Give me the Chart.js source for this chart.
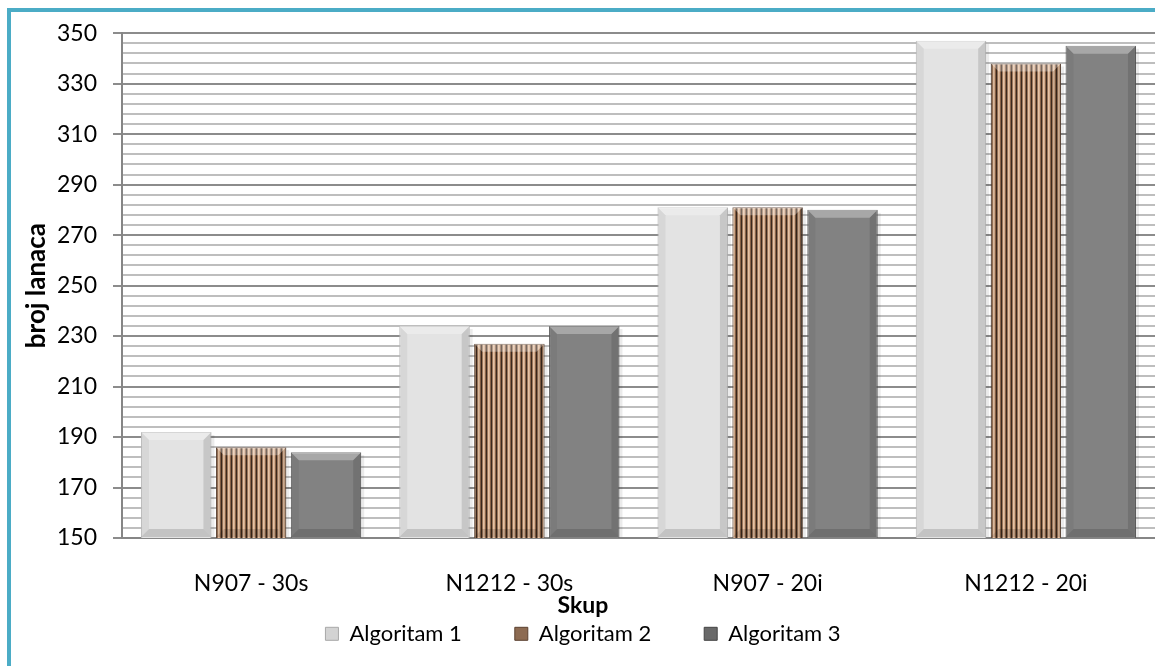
<!DOCTYPE html>
<html>
<head>
<meta charset="utf-8">
<script src="https://cdn.jsdelivr.net/npm/chart.js@4.4.1/dist/chart.umd.min.js"></script>
<style>
	html, body { margin: 0; padding: 0; background: #fff; }
	body { width: 1155px; height: 666px; position: relative; overflow: hidden; }
	#frame {
		position: absolute; left: 7px; top: 8px;
		width: 1148px; height: 658px;
		border-left: 4px solid #4bacc6; border-top: 4px solid #4bacc6;
	}
	#box { position: relative; width: 1144px; height: 654px; }
</style>
</head>
<body>
<div id="frame"><div id="box"><canvas id="chart"></canvas></div></div>
<script>
// data
const categories = ['N907 - 30s', 'N1212 - 30s', 'N907 - 20i', 'N1212 - 20i'];
const algoritam1 = [192, 234, 281, 347];
const algoritam2 = [186, 227, 281, 338];
const algoritam3 = [184, 234, 280, 345];
const seriesNames = ['Algoritam 1', 'Algoritam 2', 'Algoritam 3'];
const yMin = 150;
const yMax = 350;

Chart.defaults.font.family = 'Lato';
Chart.defaults.color = '#000';

// vertical brown stripes for Algoritam 2
function stripePattern() {
	const c = document.createElement('canvas');
	c.width = 5;
	c.height = 1;
	const g = c.getContext('2d');
	const cols = ['#3b291e', '#9a7458', '#e3c2a6', '#d6ad8d', '#8a6448'];
	cols.forEach((col, i) => {
		g.fillStyle = col;
		g.fillRect(i, 0, 1, 1);
	});
	return g.createPattern(c, 'repeat');
}

const legendFills = ['#d3d3d3', '#8d6b52', '#696969'];
const legendBorders = ['#a8a8a8', '#5a4030', '#444'];

const isMajor = (v) => (v - yMin) % 20 === 0;

// soft bevel on top of each bar, like the office "relaxed inset" look
const bevelPlugin = {
	id: 'bevel',
	afterDatasetsDraw(chart) {
		const g = chart.ctx;
		const area = chart.chartArea;
		const b = 8;
		chart.data.datasets.forEach((ds, di) => {
			const meta = chart.getDatasetMeta(di);
			meta.data.forEach((bar) => {
				const { x, y, width } = bar.getProps(['x', 'y', 'width'], true);
				const base = area.bottom - 1;
				const l = x - width / 2;
				const r = x + width / 2;
				const facet = (pts, fill) => {
					g.beginPath();
					g.moveTo(pts[0][0], pts[0][1]);
					pts.slice(1).forEach((p) => g.lineTo(p[0], p[1]));
					g.closePath();
					g.fillStyle = fill;
					g.fill();
				};
				g.save();
				facet([[l, y], [r, y], [r - b, y + b], [l + b, y + b]], 'rgba(255,255,255,0.3)');
				facet([[l, y], [l + b, y + b], [l + b, base - b], [l, base]], 'rgba(0,0,0,0.05)');
				facet([[r, y], [r - b, y + b], [r - b, base - b], [r, base]], 'rgba(0,0,0,0.12)');
				facet([[l, base], [l + b, base - b], [r - b, base - b], [r, base]], 'rgba(0,0,0,0.14)');
				// thin shadow on the right side
				g.fillStyle = 'rgba(0,0,0,0.08)';
				g.fillRect(r, y + 3, 3, base - y - 3);
				g.restore();
			});
		});
	},
};

const ctx = document.getElementById('chart');
new Chart(ctx, {
	type: 'bar',
	data: {
		labels: categories,
		datasets: [
			{
				label: seriesNames[0],
				data: algoritam1,
				backgroundColor: '#e3e3e3',
				borderColor: '#c4c4c4',
				borderWidth: 1,
			},
			{
				label: seriesNames[1],
				data: algoritam2,
				backgroundColor: stripePattern(),
				borderColor: '#5e4332',
				borderWidth: 1,
			},
			{
				label: seriesNames[2],
				data: algoritam3,
				backgroundColor: '#828282',
				borderColor: '#5c5c5c',
				borderWidth: 1,
			},
		],
	},
	options: {
		responsive: true,
		maintainAspectRatio: false,
		animation: false,
		layout: {
			// title box is counted as 0 high by the layout, hence the negative bottom
			padding: { top: 21, right: 0, bottom: -11, left: 0 },
		},
		datasets: {
			bar: {
				barPercentage: 0.94,
				categoryPercentage: 0.87,
			},
		},
		scales: {
			x: {
				grid: { display: false, drawTicks: false },
				border: { display: true, color: '#868686', width: 2 },
				ticks: {
					padding: 32,
					font: { size: 23 },
				},
				afterFit: (scale) => {
					scale.height = 54;
				},
			},
			y: {
				min: yMin,
				max: yMax,
				grid: {
					color: (c) => (isMajor(c.tick.value) ? '#8c8c8c' : '#bebebe'),
					tickColor: (c) => (isMajor(c.tick.value) ? '#8c8c8c' : 'rgba(0,0,0,0)'),
					lineWidth: 2,
					tickLength: 9,
				},
				border: { color: '#868686', width: 2 },
				ticks: {
					stepSize: 4,
					autoSkip: false,
					padding: 16,
					font: { size: 23, lineHeight: 0.45 },
					callback: (v) => (isMajor(v) ? v : ''),
				},
				title: {
					display: true,
					text: 'broj lanaca',
					font: { size: 26, weight: 'bold' },
					padding: { top: 10, bottom: 0 },
				},
				afterFit: (scale) => {
					scale.width = 111;
				},
			},
		},
		plugins: {
			title: {
				display: true,
				position: 'bottom',
				text: 'Skup',
				weight: 500,
				font: { size: 23, weight: 'bold' },
				padding: { top: 0, bottom: -49.8 },
			},
			legend: {
				position: 'bottom',
				weight: 1000,
				labels: {
					boxWidth: 13,
					boxHeight: 13,
					padding: 53,
					font: { size: 22 },
					generateLabels: (chart) =>
						Chart.defaults.plugins.legend.labels.generateLabels(chart).map((item, i) => {
							item.fillStyle = legendFills[i];
							item.strokeStyle = legendBorders[i];
							item.lineWidth = 1;
							return item;
						}),
				},
			},
			tooltip: { enabled: false },
		},
	},
	plugins: [bevelPlugin],
});
</script>
</body>
</html>
